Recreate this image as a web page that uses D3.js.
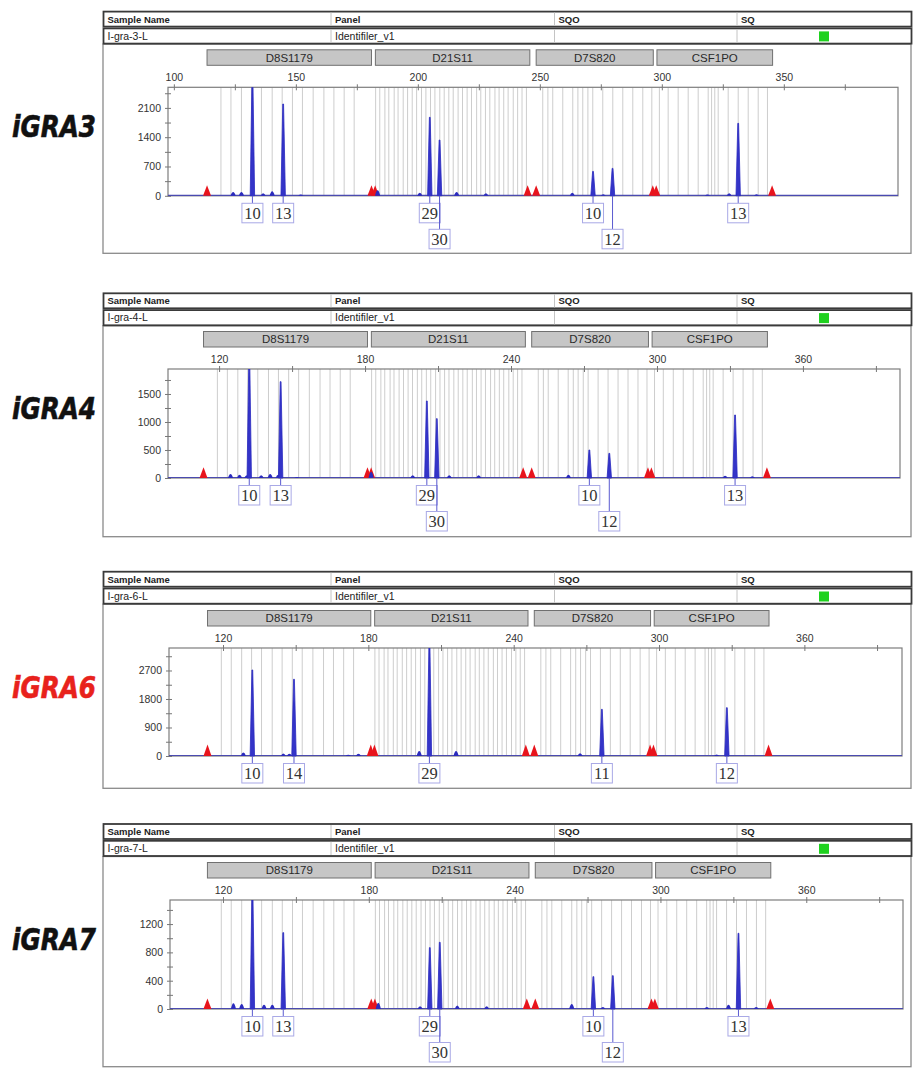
<!DOCTYPE html>
<html lang="en">
<head>
<meta charset="UTF-8">
<title>Identifiler electropherograms</title>
<script src="https://cdnjs.cloudflare.com/ajax/libs/d3/7.8.5/d3.min.js"></script>
<style>
  body { margin: 0; background: #fff; }
  svg { display: block; font-family: "Liberation Sans", Arial, sans-serif; }
</style>
</head>
<body>
<div id="chart"></div>
<script>
// ---- data (sizes in bp, heights in RFU) ----
var lociNames = ["D8S1179", "D21S11", "D7S820", "CSF1PO"];
var lociStart = [113.6, 182.6, 248.5, 298.0];
var lociEnd = [181.0, 245.9, 296.5, 345.4];

// allele bins (grey lines)
var binsD8S1179 = [119.3, 123.4, 127.7, 131.8, 135.9, 140.3, 144.4, 148.6, 152.7, 157.1, 161.5, 165.6, 169.8, 173.9];
var binsD21S11 = [182.7, 184.4, 186.5, 188.1, 190.3, 191.9, 194.0, 195.8, 197.7, 199.5, 201.5, 203.3, 205.2, 207.0,
  209.0, 210.8, 212.7, 214.5, 216.5, 218.3, 220.2, 222.0, 224.1, 225.8, 227.7, 229.5, 231.6, 233.3, 235.2, 237.0,
  239.1, 240.9, 242.7, 244.5];
var binsD7S820 = [251.2, 253.3, 255.3, 259.4, 263.5, 265.6, 267.6, 269.7, 271.7, 275.8, 279.9, 284.0, 288.1, 292.2, 295.9];
var binsCSF1PO = [299.0, 302.6, 306.7, 310.8, 314.9, 319.0, 320.4, 321.7, 323.1, 327.2, 331.3, 335.4, 339.5, 343.3];

// red size-standard peaks
var sizeStdBp = [113.6, 181.0, 182.5, 245.0, 248.5, 296.3, 297.7, 345.2];

var sampleIds = ["iGRA3", "iGRA4", "iGRA6", "iGRA7"];
var sampleFiles = ["I-gra-3-L", "I-gra-4-L", "I-gra-6-L", "I-gra-7-L"];
var panelName = "Identifiler_v1";
var sizeStdRfu = [250, 190, 360, 150];

// called alleles
var gra3Bp = [132.2, 144.8, 204.9, 208.9, 271.8, 279.8, 331.3];
var gra3Rfu = [2900, 2193, 1875, 1332, 583, 655, 1731];
var gra3Allele = ["10", "13", "29", "30", "10", "12", "13"];
var gra3Row = [0, 0, 0, 1, 0, 1, 0];

var gra4Bp = [132.4, 145.3, 205.4, 209.5, 272.2, 280.4, 332.1];
var gra4Rfu = [2200, 1720, 1375, 1060, 500, 440, 1125];
var gra4Allele = ["10", "13", "29", "30", "10", "12", "13"];
var gra4Row = [0, 0, 0, 1, 0, 1, 0];

var gra6Bp = [132.1, 149.3, 205.2, 276.4, 328.0];
var gra6Rfu = [2716, 2422, 3700, 1474, 1525];
var gra6Allele = ["10", "14", "29", "11", "12"];
var gra6Row = [0, 0, 0, 0, 0];

var gra7Bp = [132.1, 144.8, 205.1, 209.2, 272.4, 280.4, 332.1];
var gra7Rfu = [1750, 1079, 867, 942, 457, 471, 1070];
var gra7Allele = ["10", "13", "29", "30", "10", "12", "13"];
var gra7Row = [0, 0, 0, 1, 0, 1, 0];

// small stutter / noise peaks
var gra3NoiseBp = [124.3, 127.7, 136.6, 140.3, 152.0, 183.5, 200.8, 215.9, 227.9, 263.3, 276.0, 318.7, 327.6, 338.8];
var gra3NoiseRfu = [90, 90, 60, 110, 30, 130, 70, 90, 60, 70, 40, 30, 60, 40];
var gra4NoiseBp = [124.7, 128.4, 131.4, 137.3, 141.0, 144.3, 152.0, 182.5, 199.6, 214.6, 226.7, 263.6, 318.8, 328.0, 339.2];
var gra4NoiseRfu = [70, 60, 50, 50, 70, 60, 20, 110, 50, 50, 50, 60, 20, 40, 30];
var gra6NoiseBp = [128.4, 144.9, 147.4, 171.7, 175.9, 201.0, 216.2, 267.4, 323.8];
var gra6NoiseRfu = [110, 80, 70, 40, 70, 160, 160, 90, 50];
var gra7NoiseBp = [124.3, 127.7, 136.9, 140.3, 183.9, 201.1, 216.4, 228.5, 263.5, 276.3, 319.1, 328.0, 339.4];
var gra7NoiseRfu = [80, 70, 60, 60, 90, 40, 50, 40, 70, 30, 30, 60, 30];

// axis ticks
var xTicks3 = [100, 125, 150, 175, 200, 225, 250, 275, 300, 325, 350, 375];
var xTicksOther = [120, 150, 180, 210, 240, 270, 300, 330, 360, 390];
var yTicks3 = [0, 350, 700, 1050, 1400, 1750, 2100, 2450];
var yTicks4 = [0, 250, 500, 750, 1000, 1250, 1500, 1750];
var yTicks6 = [0, 450, 900, 1350, 1800, 2250, 2700, 3150];
var yTicks7 = [0, 200, 400, 600, 800, 1000, 1200, 1400];

// ---- layout of the four panels ----
var panels = [
  { top: 11.6, plotTop: 87.3, base: 195.8, bottom: 253.3, left: 168, right: 898, dom: [97.6, 396.8], yMax: 2592,
    xTicks: xTicks3, xLabelEvery: 50, yTicks: yTicks3, yLabelEvery: 700,
    bp: gra3Bp, rfu: gra3Rfu, allele: gra3Allele, row: gra3Row, nBp: gra3NoiseBp, nRfu: gra3NoiseRfu, idColor: "#111" },
  { top: 293.3, plotTop: 369, base: 478, bottom: 536.7, left: 168, right: 900, dom: [99.0, 399.9], yMax: 1946,
    xTicks: xTicksOther, xLabelEvery: 60, yTicks: yTicks4, yLabelEvery: 500,
    bp: gra4Bp, rfu: gra4Rfu, allele: gra4Allele, row: gra4Row, nBp: gra4NoiseBp, nRfu: gra4NoiseRfu, idColor: "#111" },
  { top: 571.7, plotTop: 648, base: 756, bottom: 788.3, left: 169, right: 902, dom: [97.7, 400.3], yMax: 3410,
    xTicks: xTicksOther, xLabelEvery: 60, yTicks: yTicks6, yLabelEvery: 900,
    bp: gra6Bp, rfu: gra6Rfu, allele: gra6Allele, row: gra6Row, nBp: gra6NoiseBp, nRfu: gra6NoiseRfu, idColor: "#e8221c" },
  { top: 824, plotTop: 900, base: 1009, bottom: 1066.7, left: 170, right: 903, dom: [98.2, 399.8], yMax: 1540,
    xTicks: xTicksOther, xLabelEvery: 60, yTicks: yTicks7, yLabelEvery: 400,
    bp: gra7Bp, rfu: gra7Rfu, allele: gra7Allele, row: gra7Row, nBp: gra7NoiseBp, nRfu: gra7NoiseRfu, idColor: "#111" }
];

var allBins = binsD8S1179.concat(binsD21S11, binsD7S820, binsCSF1PO);

var svg = d3.select("#chart").append("svg")
  .attr("width", 915)
  .attr("height", 1075);

panels.forEach(function(p, k) {
  var g = svg.append("g");
  var x = d3.scaleLinear().domain(p.dom).range([p.left, p.right]);
  var y = d3.scaleLinear().domain([0, p.yMax]).range([p.base, p.plotTop]);

  // big sample id on the left
  g.append("text")
    .attr("x", 12).attr("y", p.plotTop + 49.5)
    .attr("textLength", 84).attr("lengthAdjust", "spacingAndGlyphs")
    .style("font-family", "'Liberation Sans Narrow', 'DejaVu Sans Condensed', Arial, sans-serif")
    .style("font-weight", "900").style("font-style", "italic")
    .style("font-size", "31px").attr("fill", p.idColor)
    .attr("stroke", p.idColor).attr("stroke-width", 0.6)
    .text(sampleIds[k]);

  // body box
  g.append("rect")
    .attr("x", 103).attr("y", p.top + 32.5)
    .attr("width", 808).attr("height", p.bottom - p.top - 32.5)
    .attr("fill", "#fff").attr("stroke", "#8a8a8a").attr("stroke-width", 1.3);

  // header table: two rows
  var cols = [103.5, 331, 554.5, 737];
  [[0, 15, ["Sample Name", "Panel", "SQO", "SQ"], "bold"],
   [16.8, 15.2, [sampleFiles[k], panelName, "", ""], "normal"]].forEach(function(r) {
    g.append("rect")
      .attr("x", 103.5).attr("y", p.top + r[0])
      .attr("width", 808).attr("height", r[1])
      .attr("fill", "#fff").attr("stroke", "#3a3a3a").attr("stroke-width", 1.8);
    cols.slice(1).forEach(function(cx) {
      g.append("line").attr("x1", cx).attr("x2", cx)
        .attr("y1", p.top + r[0] + 1).attr("y2", p.top + r[0] + r[1] - 1)
        .attr("stroke", "#c4c4c4");
    });
    r[2].forEach(function(t, i) {
      g.append("text")
        .attr("x", cols[i] + 4).attr("y", p.top + r[0] + r[1] / 2 + 3.6)
        .style("font-size", r[3] === "bold" ? "9.5px" : "10.5px")
        .style("font-weight", r[3]).attr("fill", "#222")
        .text(t);
    });
  });
  g.append("rect")
    .attr("x", 819).attr("y", p.top + 19.8)
    .attr("width", 10).attr("height", 10)
    .attr("fill", "#1fd11f");

  // locus bars
  lociNames.forEach(function(n, i) {
    var x0 = x(lociStart[i]), x1 = x(lociEnd[i]);
    g.append("rect")
      .attr("x", x0).attr("y", p.plotTop - 37.5)
      .attr("width", x1 - x0).attr("height", 15.5)
      .attr("fill", "#c6c6c6").attr("stroke", "#707070").attr("stroke-width", 1);
    g.append("text")
      .attr("x", (x0 + x1) / 2).attr("y", p.plotTop - 25.6)
      .attr("text-anchor", "middle")
      .style("font-size", "11.5px").attr("fill", "#2a2a2a")
      .text(n);
  });

  // clip for the trace
  g.append("clipPath").attr("id", "clip" + k)
    .append("rect")
    .attr("x", p.left).attr("y", p.plotTop)
    .attr("width", p.right - p.left).attr("height", p.base - p.plotTop + 1);

  // bins
  g.append("g").selectAll("line")
    .data(allBins)
    .join("line")
    .attr("x1", function(d) { return x(d); })
    .attr("x2", function(d) { return x(d); })
    .attr("y1", p.plotTop).attr("y2", p.base)
    .attr("stroke", "#cdcdcd").attr("stroke-width", 1);

  // plot frame
  g.append("rect")
    .attr("x", p.left).attr("y", p.plotTop)
    .attr("width", p.right - p.left).attr("height", p.base - p.plotTop)
    .attr("fill", "none").attr("stroke", "#7d7d7d").attr("stroke-width", 1.2);

  // top axis
  var xAxis = d3.axisTop(x)
    .tickValues(p.xTicks)
    .tickSizeInner(3).tickSizeOuter(0).tickPadding(3)
    .tickFormat(function(d) { return d % p.xLabelEvery === 0 ? d : ""; });
  var ax = g.append("g").attr("transform", "translate(0," + p.plotTop + ")").call(xAxis);
  ax.select(".domain").remove();
  ax.selectAll(".tick line").attr("stroke", "#777");
  ax.selectAll(".tick").append("line").attr("y2", 3).attr("stroke", "#777");
  ax.selectAll("text").style("font-size", "10.5px").attr("fill", "#333")
    .style("font-family", "'Liberation Sans', Arial, sans-serif");

  // left axis
  var yAxis = d3.axisLeft(y)
    .tickValues(p.yTicks)
    .tickSizeInner(3).tickSizeOuter(0).tickPadding(4)
    .tickFormat(function(d) { return d % p.yLabelEvery === 0 ? d : ""; });
  var ay = g.append("g").attr("transform", "translate(" + p.left + ",0)").call(yAxis);
  ay.select(".domain").remove();
  ay.selectAll(".tick line").attr("stroke", "#777");
  ay.selectAll(".tick").append("line").attr("x2", 3).attr("stroke", "#777");
  ay.selectAll("text").style("font-size", "10.5px").attr("fill", "#333")
    .style("font-family", "'Liberation Sans', Arial, sans-serif");

  var trace = g.append("g").attr("clip-path", "url(#clip" + k + ")");

  // baseline of the blue trace
  trace.append("line")
    .attr("x1", p.left).attr("x2", p.right)
    .attr("y1", p.base - 0.5).attr("y2", p.base - 0.5)
    .attr("stroke", "#4a4ab0").attr("stroke-width", 1.2);

  // red size standard
  trace.selectAll("path.std")
    .data(sizeStdBp)
    .join("path")
    .attr("class", "std")
    .attr("d", function(d) {
      var cx = x(d), top = y(sizeStdRfu[k]);
      return "M" + (cx - 4) + "," + p.base + "L" + cx + "," + top + "L" + (cx + 4) + "," + p.base + "Z";
    })
    .attr("fill", "#e8141c");

  // noise peaks
  trace.selectAll("path.noise")
    .data(p.nBp)
    .join("path")
    .attr("class", "noise")
    .attr("d", function(d, i) {
      var cx = x(d), top = y(p.nRfu[i]);
      return "M" + (cx - 2.6) + "," + p.base + "Q" + cx + "," + (2 * top - p.base) + " " + (cx + 2.6) + "," + p.base + "Z";
    })
    .attr("fill", "#2b2bbd");

  // allele peaks
  trace.selectAll("path.peak")
    .data(p.bp)
    .join("path")
    .attr("class", "peak")
    .attr("d", function(d, i) {
      var cx = x(d), top = y(p.rfu[i]);
      return "M" + (cx - 2.2) + "," + p.base + "L" + (cx - 0.4) + "," + top + "L" + (cx + 0.4) + "," + top +
        "L" + (cx + 2.2) + "," + p.base + "Z";
    })
    .attr("fill", "#3434c8").attr("stroke", "#2a2ac0").attr("stroke-width", 0.8);

  // allele call boxes
  var calls = g.append("g");
  p.bp.forEach(function(d, i) {
    var cx = x(d);
    var by = p.base + 7.5 + p.row[i] * 26;
    calls.append("line")
      .attr("x1", cx).attr("x2", cx)
      .attr("y1", p.base).attr("y2", by)
      .attr("stroke", "#5a5ad0").attr("stroke-width", 1);
    calls.append("rect")
      .attr("x", cx - 10.5).attr("y", by)
      .attr("width", 21).attr("height", 19.5)
      .attr("fill", "#fff").attr("stroke", "#a9a9e6").attr("stroke-width", 1);
    calls.append("text")
      .attr("x", cx).attr("y", by + 15.2)
      .attr("text-anchor", "middle")
      .style("font-family", "'Liberation Serif', 'Times New Roman', serif")
      .style("font-size", "16.5px").attr("fill", "#333")
      .text(p.allele[i]);
  });
});
</script>
</body>
</html>
